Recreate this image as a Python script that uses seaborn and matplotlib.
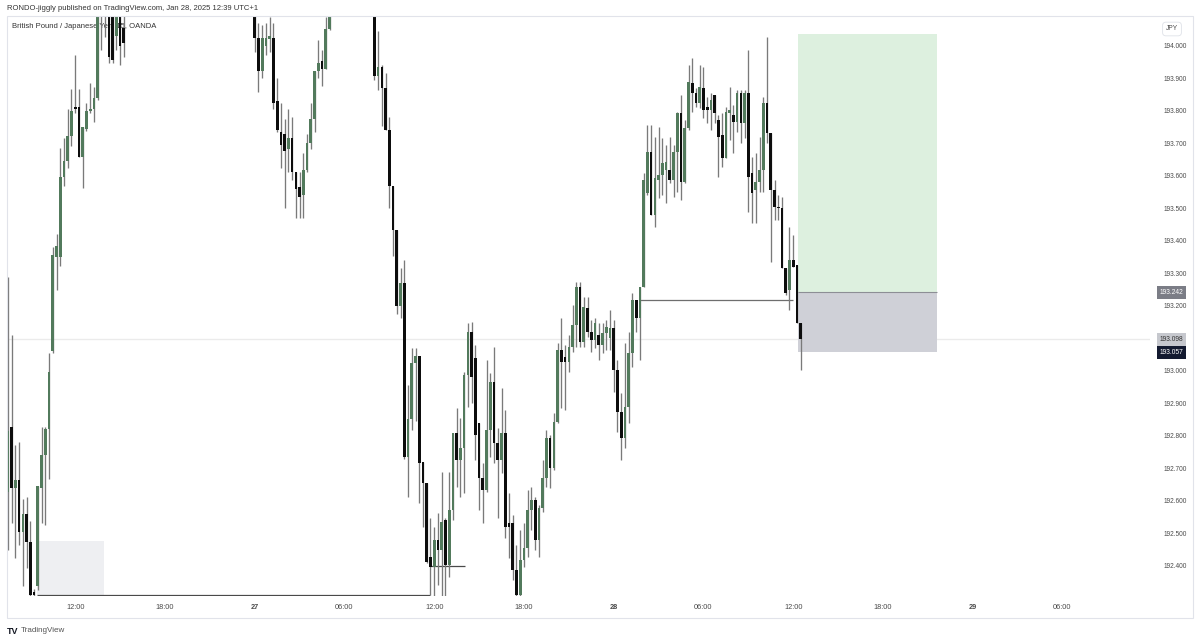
import numpy as np
import pandas as pd
import matplotlib.pyplot as plt
import seaborn as sns
from matplotlib.patches import Rectangle

# GBPJPY 15m, OANDA. bar 0 = Fri 07:30 (UTC+1), one bar per 15 min, weekend gap skipped.
# bars 32-65 and 87-97 sit completely above the visible pane, so they are left out.
bars = list(range(0, 32)) + list(range(66, 87)) + list(range(98, 213))

opens = [
    192.628, 192.828, 192.640, 192.663, 192.503, 192.560, 192.475, 192.321, 192.338, 192.640,
    192.742, 192.822, 193.061, 193.351, 193.351, 193.597, 193.647, 193.722, 193.812, 193.812,
    193.658, 193.745, 193.801, 193.807, 193.841, 194.100, 194.160, 194.140, 194.100, 194.030,
    194.130, 194.055,
    194.120, 194.025, 193.923, 194.000, 194.020, 194.025, 193.831, 193.735, 193.729, 193.683,
    193.717, 193.612, 193.565, 193.541, 193.618, 193.700, 193.775, 193.923, 193.954, 193.929,
    194.052,
    194.120, 193.906, 193.935, 193.871, 193.741, 193.570, 193.435, 193.200, 193.271, 192.735,
    192.852, 193.023, 193.046, 192.721, 192.654, 192.429, 192.398, 192.480, 192.449, 192.541,
    192.403, 192.572, 192.808, 192.726, 192.762, 192.988, 193.121, 193.039, 192.839, 192.670,
    192.634, 192.818, 192.967, 192.777, 192.726, 192.808, 192.532, 192.532, 192.388, 192.311,
    192.418, 192.454, 192.572, 192.603, 192.480, 192.577, 192.670, 192.793, 192.701, 192.844,
    193.065, 193.044, 193.029, 193.075, 193.141, 193.259, 193.090, 193.193, 193.121, 193.095,
    193.111, 193.080, 193.116, 193.101, 193.131, 193.003, 192.875, 192.793, 192.890, 193.054,
    193.218, 193.162, 193.259, 193.547, 193.675, 193.480, 193.588, 193.603, 193.618, 193.618,
    193.588, 193.675, 193.793, 193.582, 193.747, 193.885, 193.854, 193.824, 193.870, 193.813,
    193.803, 193.849, 193.772, 193.726, 193.654, 193.793, 193.788, 193.767, 193.854, 193.762,
    193.854, 193.608, 193.557, 193.582, 193.618, 193.824, 193.731, 193.557, 193.505, 193.501,
    193.316, 193.249, 193.341, 193.326, 193.148,
]
highs = [
    193.290, 193.112, 192.771, 192.782, 192.606, 192.611, 192.538, 192.330, 192.646, 192.828,
    192.828, 193.055, 193.380, 193.420, 193.687, 193.716, 193.807, 193.869, 193.972, 193.869,
    193.750, 193.825, 193.886, 193.875, 194.120, 194.200, 194.220, 194.180, 194.150, 194.150,
    194.160, 194.100,
    194.150, 194.071, 194.065, 194.071, 194.090, 194.071, 193.901, 193.825, 193.775, 193.806,
    193.781, 193.612, 193.612, 193.671, 193.729, 193.825, 193.923, 194.018, 193.988, 194.090,
    194.150,
    194.150, 194.046, 193.942, 193.917, 193.781, 193.570, 193.435, 193.317, 193.341, 192.958,
    193.071, 193.071, 193.046, 192.721, 192.654, 192.548, 192.521, 192.563, 192.690, 192.548,
    192.690, 192.808, 192.885, 192.854, 192.998, 193.147, 193.152, 193.080, 192.839, 192.717,
    193.034, 192.993, 193.075, 192.824, 192.947, 192.880, 192.625, 192.557, 192.464, 192.511,
    192.532, 192.634, 192.644, 192.613, 192.588, 192.726, 192.818, 192.803, 192.870, 193.085,
    193.162, 193.080, 193.111, 193.203, 193.275, 193.275, 193.229, 193.229, 193.157, 193.162,
    193.147, 193.147, 193.157, 193.188, 193.157, 193.034, 192.931, 193.085, 193.121, 193.239,
    193.218, 193.259, 193.608, 193.757, 193.757, 193.721, 193.752, 193.716, 193.695, 193.721,
    193.695, 193.798, 193.849, 193.772, 193.941, 193.962, 193.871, 193.941, 193.936, 193.844,
    193.854, 193.849, 193.788, 193.793, 193.813, 193.875, 193.818, 193.865, 193.865, 193.865,
    193.988, 193.659, 193.670, 193.721, 193.844, 194.029, 193.731, 193.588, 193.541, 193.536,
    193.316, 193.443, 193.418, 193.326, 193.148,
]
lows = [
    192.450, 192.532, 192.424, 192.463, 192.338, 192.395, 192.305, 192.308, 192.326, 192.532,
    192.526, 192.669, 193.055, 193.249, 193.323, 193.568, 193.625, 193.693, 193.795, 193.658,
    193.562, 193.738, 193.795, 193.767, 193.835, 193.989, 194.028, 193.948, 193.948, 193.989,
    193.940, 193.966,
    193.981, 193.858, 193.901, 193.972, 193.981, 193.806, 193.735, 193.625, 193.500, 193.612,
    193.588, 193.471, 193.471, 193.471, 193.612, 193.683, 193.735, 193.901, 193.877, 193.929,
    194.050,
    193.895, 193.865, 193.754, 193.741, 193.500, 193.354, 193.175, 193.164, 192.730, 192.611,
    192.817, 192.846, 192.594, 192.521, 192.410, 192.311, 192.305, 192.341, 192.305, 192.305,
    192.367, 192.541, 192.644, 192.613, 192.624, 192.890, 192.901, 192.726, 192.572, 192.532,
    192.629, 192.736, 192.716, 192.548, 192.685, 192.485, 192.425, 192.357, 192.305, 192.305,
    192.398, 192.429, 192.511, 192.449, 192.429, 192.567, 192.644, 192.639, 192.695, 192.839,
    192.886, 192.880, 192.997, 193.059, 193.075, 193.075, 193.075, 193.105, 193.059, 193.070,
    193.034, 193.054, 193.065, 193.065, 192.936, 192.813, 192.726, 192.762, 192.839, 193.013,
    193.121, 193.034, 193.259, 193.541, 193.480, 193.444, 193.531, 193.541, 193.516, 193.577,
    193.536, 193.552, 193.526, 193.577, 193.742, 193.798, 193.812, 193.808, 193.777, 193.762,
    193.741, 193.762, 193.598, 193.629, 193.654, 193.711, 193.670, 193.736, 193.701, 193.716,
    193.490, 193.454, 193.454, 193.552, 193.552, 193.701, 193.336, 193.465, 193.465, 193.316,
    193.235, 193.188, 193.320, 193.148, 193.003,
]
closes = [
    192.815, 192.640, 192.663, 192.503, 192.560, 192.475, 192.310, 192.310, 192.646, 192.742,
    192.822, 192.998, 193.357, 193.385, 193.597, 193.647, 193.722, 193.801, 193.807, 193.658,
    193.750, 193.801, 193.807, 193.841, 194.100, 194.160, 194.140, 193.966, 193.957, 194.120,
    194.000, 194.010,
    194.025, 193.923, 194.025, 194.025, 194.030, 193.825, 193.741, 193.695, 193.677, 193.717,
    193.612, 193.560, 193.535, 193.618, 193.700, 193.775, 193.923, 193.948, 193.929, 194.052,
    194.100,
    193.906, 193.935, 193.871, 193.741, 193.570, 193.435, 193.200, 193.271, 192.735, 192.852,
    193.023, 193.046, 192.717, 192.654, 192.413, 192.398, 192.480, 192.449, 192.536, 192.403,
    192.572, 192.808, 192.726, 192.762, 192.988, 193.121, 192.982, 192.803, 192.670, 192.634,
    192.818, 192.967, 192.777, 192.726, 192.808, 192.521, 192.521, 192.388, 192.311, 192.418,
    192.454, 192.572, 192.603, 192.480, 192.577, 192.670, 192.793, 192.701, 192.844, 193.065,
    193.028, 193.029, 193.075, 193.141, 193.259, 193.090, 193.198, 193.121, 193.095, 193.147,
    193.080, 193.116, 193.136, 193.132, 193.003, 192.875, 192.793, 192.890, 193.054, 193.218,
    193.162, 193.259, 193.588, 193.675, 193.480, 193.593, 193.603, 193.639, 193.644, 193.588,
    193.675, 193.793, 193.582, 193.747, 193.890, 193.854, 193.824, 193.875, 193.803, 193.803,
    193.834, 193.793, 193.721, 193.654, 193.798, 193.803, 193.767, 193.854, 193.762, 193.854,
    193.598, 193.547, 193.582, 193.618, 193.824, 193.731, 193.557, 193.505, 193.501, 193.316,
    193.239, 193.341, 193.320, 193.148, 193.098,
]

# axis labels
time_tick_bars = [18, 42, 66, 90, 114, 138, 162, 186, 210, 234, 258, 282]
time_tick_labels = ["12:00", "18:00", "27", "06:00", "12:00", "18:00", "28", "06:00",
                    "12:00", "18:00", "29", "06:00"]
# 193.100 is hidden behind the last-price label, as on the original
price_ticks = [192.4, 192.5, 192.6, 192.7, 192.8, 192.9, 193.0, 193.2, 193.3,
               193.4, 193.5, 193.6, 193.7, 193.8, 193.9, 194.0]

# drawings on the chart
zone_bars = [7.8, 25.7]          # grey box bottom left
zone_prices = [192.310, 192.477]
low_line_bars = [7.8, 113.0]
low_line_price = 192.311
mid_line_bars = [113.0, 122.2]
mid_line_price = 192.400
break_line_bars = [169.0, 210.0]
break_line_price = 193.218
pos_bars = [211.3, 248.5]        # long position tool
entry_price = 193.242
target_price = 194.037
stop_price = 193.057
last_price = 193.098

df = pd.DataFrame({"bar": bars, "open": opens, "high": highs, "low": lows, "close": closes})
df["up"] = df["close"] >= df["open"]
df["body_low"] = df[["open", "close"]].min(axis=1)
df["body_h"] = (df["close"] - df["open"]).abs().clip(lower=0.004)

sns.set_theme(style="white")
plt.rcParams["font.family"] = ["Liberation Sans", "DejaVu Sans"]

W, H = 1200, 638
fig = plt.figure(figsize=(12, 6.38), dpi=100, facecolor="white")
L, R, T, B = 7, 1150, 17, 596
ax = fig.add_axes([L / W, 1 - B / H, (R - L) / W, (B - T) / H])
ax.set_facecolor("white")

up_col, down_col, wick_col = "#527a5c", "#0d0d0d", "#7a7a7a"

# wicks then bodies
ax.vlines(df["bar"], df["low"], df["high"], color=wick_col, lw=0.95, zorder=3)
for is_up, col in [(True, up_col), (False, down_col)]:
    d = df[df["up"] == is_up]
    ax.bar(d["bar"], d["body_h"], bottom=d["body_low"], width=0.72, color=col,
           linewidth=0, zorder=4)

# zone + lines
ax.add_patch(Rectangle((zone_bars[0], zone_prices[0]), zone_bars[1] - zone_bars[0],
                       zone_prices[1] - zone_prices[0], color="#eeeff2", lw=0, zorder=1))
ax.hlines(low_line_price, *low_line_bars, color="#4a4a4a", lw=0.9, zorder=2)
ax.hlines(mid_line_price, *mid_line_bars, color="#4a4a4a", lw=0.9, zorder=2)
ax.hlines(break_line_price, *break_line_bars, color="#6e6e6e", lw=0.9, zorder=2)
ax.axhline(last_price, color="#ebebeb", lw=1, zorder=0.5)

# long position
ax.add_patch(Rectangle((pos_bars[0], entry_price), pos_bars[1] - pos_bars[0],
                       target_price - entry_price, color="#ddf0df", lw=0, zorder=1))
ax.add_patch(Rectangle((pos_bars[0], stop_price), pos_bars[1] - pos_bars[0],
                       entry_price - stop_price, color="#cfd0d7", lw=0, zorder=1))
ax.hlines(entry_price, *pos_bars, color="#8d8e95", lw=0.8, zorder=2)

# axes
ax.set_xlim(-0.24, 305.4)
ax.set_ylim(192.3076, 194.089)
ax.yaxis.tick_right()
ax.set_yticks(price_ticks)
ax.set_yticklabels([f"{p:.3f}" for p in price_ticks])
ax.set_xticks(time_tick_bars)
ax.set_xticklabels(time_tick_labels)
ax.tick_params(axis="y", length=0, pad=10, labelsize=4.7, labelcolor="#4a4a4a")
ax.tick_params(axis="x", length=0, pad=6, labelsize=5.3, labelcolor="#4a4a4a")
for lab in ax.get_xticklabels():
    if len(lab.get_text()) == 2:
        lab.set_fontweight("bold")
ax.grid(False)
sns.despine(ax=ax, left=True, bottom=True, right=True, top=True)

# price labels on the axis
ytr = ax.get_yaxis_transform()
for price, fc, tc in [(entry_price, "#7b7d86", "white"), (last_price, "#c6c8ce", "#333333"),
                      (stop_price, "#131a30", "white")]:
    ax.text(1.0188, price, f"{price:.3f}", transform=ytr, ha="center", va="center",
            fontsize=4.8, color=tc, clip_on=False, zorder=6,
            bbox=dict(boxstyle="square,pad=0.45", fc=fc, ec="none"))

# symbol title (drawn under the candles)
ax.text(5 / (R - L), 1 - 10 / (B - T), "British Pound / Japanese Yen, 15, OANDA",
        transform=ax.transAxes, fontsize=5.5, color="#333333", va="center", zorder=0.6)

# page chrome
fig.text(7 / W, 1 - 9 / H, "RONDO-jiggly published on TradingView.com, Jan 28, 2025 12:39 UTC+1",
         fontsize=5.5, color="#333333", va="center")
fig.text(1172 / W, 1 - 29 / H, "JPY", fontsize=4.8, color="#4a4a4a", ha="center", va="center",
         bbox=dict(boxstyle="round,pad=0.5", fc="white", ec="#dfe2e8", lw=0.6))
fig.add_artist(Rectangle((7 / W, 1 - 618 / H), (1193 - 7) / W, (618 - 16) / H,
                         transform=fig.transFigure, fill=False, ec="#e1e3ea", lw=0.8))
fig.text(7 / W, 1 - 631 / H, "TV", fontsize=6.5, fontweight="bold", color="#131722", va="center")
fig.text(21 / W, 1 - 631 / H, "TradingView", fontsize=5.8, color="#555555", va="center")

fig.savefig("out.png", dpi=100, facecolor="white")
